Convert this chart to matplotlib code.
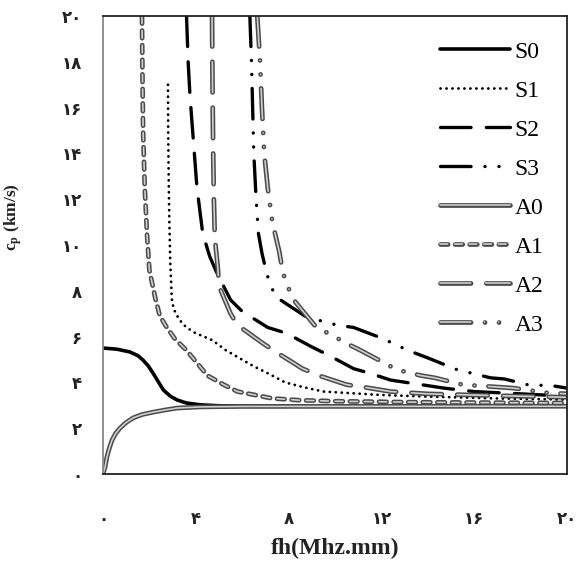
import matplotlib
matplotlib.use("Agg")
import matplotlib.pyplot as plt
import matplotlib.patheffects as pe

plt.rcParams['lines.scale_dashes'] = False
plt.rcParams['mathtext.fontset'] = 'custom'
plt.rcParams['mathtext.rm'] = 'Liberation Serif:bold'
plt.rcParams['mathtext.it'] = 'Liberation Serif:bold'
plt.rcParams['mathtext.bf'] = 'Liberation Serif:bold'

# ---- data (fh in MHz.mm, cp in km/s) ----
s0_x = [0, 0.6, 1.16, 1.5, 1.72, 1.95, 2.16, 2.4, 2.6, 2.9, 3.2, 3.6, 4.2, 5, 6, 10, 20]
s0_y = [5.5, 5.45, 5.33, 5.17, 4.98, 4.72, 4.4, 4.0, 3.67, 3.4, 3.23, 3.1, 3.02, 2.98, 2.97, 2.96, 2.96]

a0_x = [0, 0.02, 0.09, 0.17, 0.28, 0.39, 0.55, 0.73, 1.0, 1.3, 1.7, 2.16, 2.7, 3.2, 4.2, 6, 20]
a0_y = [0, 0.08, 0.3, 0.75, 1.15, 1.48, 1.78, 2.0, 2.25, 2.45, 2.6, 2.7, 2.8, 2.88, 2.93, 2.95, 2.96]

s1_x = [2.8, 2.81, 2.83, 2.86, 2.9, 2.97, 3.05, 3.2, 3.4, 3.6, 3.97, 4.7, 5.3, 5.9, 6.5, 7.1, 7.85, 8.6, 9.5, 10.5, 12, 14, 17, 20]
s1_y = [17, 15, 13, 11, 9.2, 7.6, 7.2, 6.9, 6.6, 6.4, 6.16, 5.85, 5.4, 5.05, 4.7, 4.4, 4.0, 3.8, 3.6, 3.54, 3.45, 3.38, 3.3, 3.25]

a1_x = [1.68, 1.7, 1.73, 1.8, 1.9, 2.0, 2.25, 2.45, 2.75, 3.1, 3.6, 4.05, 4.5, 5.2, 5.8, 6.55, 7.3, 8.5, 10, 13, 16, 20]
a1_y = [20, 17.5, 14.9, 12.5, 10.4, 8.9, 7.7, 6.9, 6.4, 5.9, 5.4, 4.85, 4.3, 3.9, 3.6, 3.45, 3.3, 3.22, 3.18, 3.14, 3.12, 3.1]

s2_x = [3.6, 3.67, 3.75, 3.9, 4.05, 4.3, 4.6, 4.9, 5.5, 6.0, 7.1, 7.9, 9.0, 9.7, 10.8, 11.5, 12.4, 13.4, 14.7, 16.0, 18.0, 20]
s2_y = [20, 18, 16.5, 14.5, 12.5, 10.5, 9.5, 8.8, 7.6, 7.1, 6.4, 6.15, 5.55, 5.2, 4.6, 4.4, 4.1, 3.95, 3.75, 3.6, 3.5, 3.4]

a2_x = [4.7, 4.72, 4.75, 4.78, 4.82, 4.95, 5.0, 5.5, 5.8, 6.9, 7.5, 8.6, 9.3, 10.5, 11.2, 12.4, 14, 17, 20]
a2_y = [20, 17, 14, 12, 10.3, 9.0, 8.2, 7.0, 6.5, 5.7, 5.3, 4.6, 4.3, 3.9, 3.8, 3.6, 3.5, 3.42, 3.35]

s3_x = [6.33, 6.4, 6.45, 6.5, 6.6, 6.7, 6.85, 7.0, 7.2, 7.5, 8.7, 9.35, 10.1, 10.8, 12.1, 12.7, 13.4, 14.0, 15.3, 15.9, 16.7, 17.3, 18.3, 19.4, 20]
s3_y = [20, 18, 16, 14, 12, 10.5, 9.65, 9.0, 8.25, 7.7, 6.9, 6.7, 6.5, 6.4, 5.9, 5.6, 5.3, 5.07, 4.54, 4.4, 4.2, 4.15, 3.9, 3.85, 3.75]

a3_x = [6.65, 6.77, 6.85, 6.95, 7.1, 7.3, 7.6, 7.75, 8.0, 8.3, 9.2, 9.8, 10.5, 11.1, 12.4, 12.9, 13.7, 14.3, 15.5, 17.7, 19.1, 20]
a3_y = [20, 18, 16, 14, 12.5, 11, 9.7, 8.8, 8.1, 7.5, 6.4, 6.1, 5.7, 5.4, 4.7, 4.5, 4.3, 4.2, 3.9, 3.75, 3.55, 3.5]

x_ticks = [0, 4, 8, 12, 16, 20]
x_tick_labels = ['۰', '۴', '۸', '۱۲', '۱۶', '۲۰']
y_ticks = [0, 2, 4, 6, 8, 10, 12, 14, 16, 18, 20]
y_tick_labels = ['۰', '۲', '۴', '۶', '۸', '۱۰', '۱۲', '۱۴', '۱۶', '۱۸', '۲۰']

fig = plt.figure(figsize=(5.82, 5.64), dpi=100)
ax = fig.add_axes([103/582, 1 - 474/564, 464/582, 458/564])

black_kw = dict(color='black', lw=2.4)
gray_fx = [pe.Stroke(linewidth=3.4, foreground='#4a4a4a'), pe.Normal()]
gray_kw = dict(color='#cfcfcf', lw=1.2, path_effects=gray_fx)

ax.plot(s0_x, s0_y, color='black', lw=2.6, solid_capstyle='round', label='S0')
ax.plot(s1_x, s1_y, color='black', lw=2.0, linestyle=(0, (0.1, 4.2)),
        dash_capstyle='round', label='S1')
ax.plot(s2_x, s2_y, linestyle=(0, (22, 11)), dash_capstyle='round', label='S2', **black_kw)
ax.plot(s3_x, s3_y, linestyle=(0, (22, 10, 0.1, 10, 0.1, 10)), dash_capstyle='round',
        label='S3', **black_kw)
ax.plot(a0_x, a0_y, solid_capstyle='round', label='A0', **gray_kw)
ax.plot(a1_x, a1_y, linestyle=(0, (5.5, 5.0)), dash_capstyle='round', label='A1', **gray_kw)
ax.plot(a2_x, a2_y, linestyle=(0, (22, 11)), dash_capstyle='round', label='A2', **gray_kw)
ax.plot(a3_x, a3_y, linestyle=(0, (22, 10, 0.1, 10, 0.1, 10)), dash_capstyle='round',
        label='A3', **gray_kw)

ax.set_xlim(0, 20)
ax.set_ylim(0, 20)
ax.set_xticks(x_ticks)
ax.set_xticklabels(x_tick_labels)
ax.set_yticks(y_ticks)
ax.set_yticklabels(y_tick_labels)
ax.tick_params(axis='both', length=0)
ax.tick_params(axis='x', pad=26)
ax.tick_params(axis='y', pad=15)
for lab in ax.get_xticklabels() + ax.get_yticklabels():
    lab.set_fontfamily('DejaVu Sans')
    lab.set_fontweight('bold')
    lab.set_fontsize(12)
    lab.set_color('#222222')

for side in ['top', 'right', 'bottom']:
    ax.spines[side].set_color('#222222')
    ax.spines[side].set_linewidth(1.3)
ax.spines['left'].set_color('#888888')
ax.spines['left'].set_linewidth(1.3)

ax.set_xlabel('fh(Mhz.mm)', fontfamily='Liberation Serif', fontweight='bold', fontsize=17,
              color='#222222')
ax.xaxis.set_label_coords(0.5, -0.14)
ax.set_ylabel(r'c$_{\mathrm{p}}$ (km/s)', fontfamily='Liberation Serif', fontweight='bold',
              fontsize=12.5, color='#222222')
ax.yaxis.set_label_coords(-0.17, 0.56)

leg = ax.legend(loc='upper left', bbox_to_anchor=(0.726, 0.945), frameon=False,
                prop={'family': 'Liberation Serif', 'size': 17},
                handlelength=2.95, handletextpad=0.22, labelspacing=0.74,
                borderpad=0, borderaxespad=0)

fig.savefig('out.png', dpi=100)
